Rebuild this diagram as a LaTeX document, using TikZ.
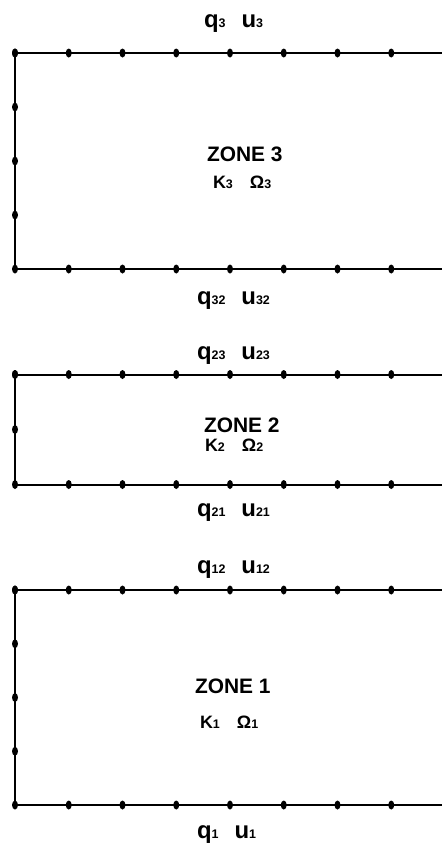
\documentclass[tikz,border=0pt]{standalone}
\usepackage{fontspec}
\setmainfont{Liberation Sans}
\newcommand\sbs[1]{{\fontsize{12.5}{13}\selectfont #1}}
\newcommand\flux[2]{{\fontsize{24}{26}\selectfont q}\sbs{#1}\hspace{16bp}{\fontsize{24}{26}\selectfont u}\sbs{#2}}
\newcommand\param[1]{{\fontsize{18}{20}\selectfont K}\sbs{#1}\hspace{17bp}{\fontsize{18}{20}\selectfont Ω}\sbs{#1}}
\begin{document}
\begin{tikzpicture}[x=1bp,y=-1bp,
  zoneedge/.style={line width=2bp, line join=miter},
  lbl/.style={anchor=base west, inner sep=0pt, outer sep=0pt, font=\bfseries},
  title/.style={lbl, font=\bfseries\fontsize{21}{23}\selectfont}]
\useasboundingbox (0,0) rectangle (442,845);

% one zone: top y, bottom y, number of vertical segments
\newcommand\drawzone[3]{%
  \draw[zoneedge] (15,#1) rectangle (445,#2);
  \foreach \k in {0,...,8}{
    \fill ({15+53.75*\k},#1) ellipse [x radius=3bp, y radius=4.5bp];
    \fill ({15+53.75*\k},#2) ellipse [x radius=3bp, y radius=4.5bp];
  }
  \foreach \j in {1,...,#3}{
    \pgfmathsetmacro\yy{#1+(#2-#1)*(\j-1)/#3}
    \fill (15,\yy) ellipse [x radius=3bp, y radius=4.5bp];
    \fill (445,\yy) ellipse [x radius=3bp, y radius=4.5bp];
  }
}

\drawzone{53}{269}{4}
\drawzone{374.5}{484.5}{2}
\drawzone{590}{805}{4}

% zone 3
\node[lbl] (f3) at (204,27.5) {\flux{3}{3}};
\node[title] (z3) at (207,161) {ZONE 3};
\node[lbl] (p3) at (213,188) {\param{3}};
\node[lbl] (f32) at (197,304) {\flux{32}{32}};

% zone 2
\node[lbl] (f23) at (197,359) {\flux{23}{23}};
\node[title] (z2) at (204,432.5) {ZONE 2};
\node[lbl] (p2) at (205,451.5) {\param{2}};
\node[lbl] (f21) at (197,516) {\flux{21}{21}};

% zone 1
\node[lbl] (f12) at (197,573) {\flux{12}{12}};
\node[title] (z1) at (195,693) {ZONE 1};
\node[lbl] (p1) at (200,728) {\param{1}};
\node[lbl] (f1) at (197,838) {\flux{1}{1}};
\end{tikzpicture}
\end{document}
